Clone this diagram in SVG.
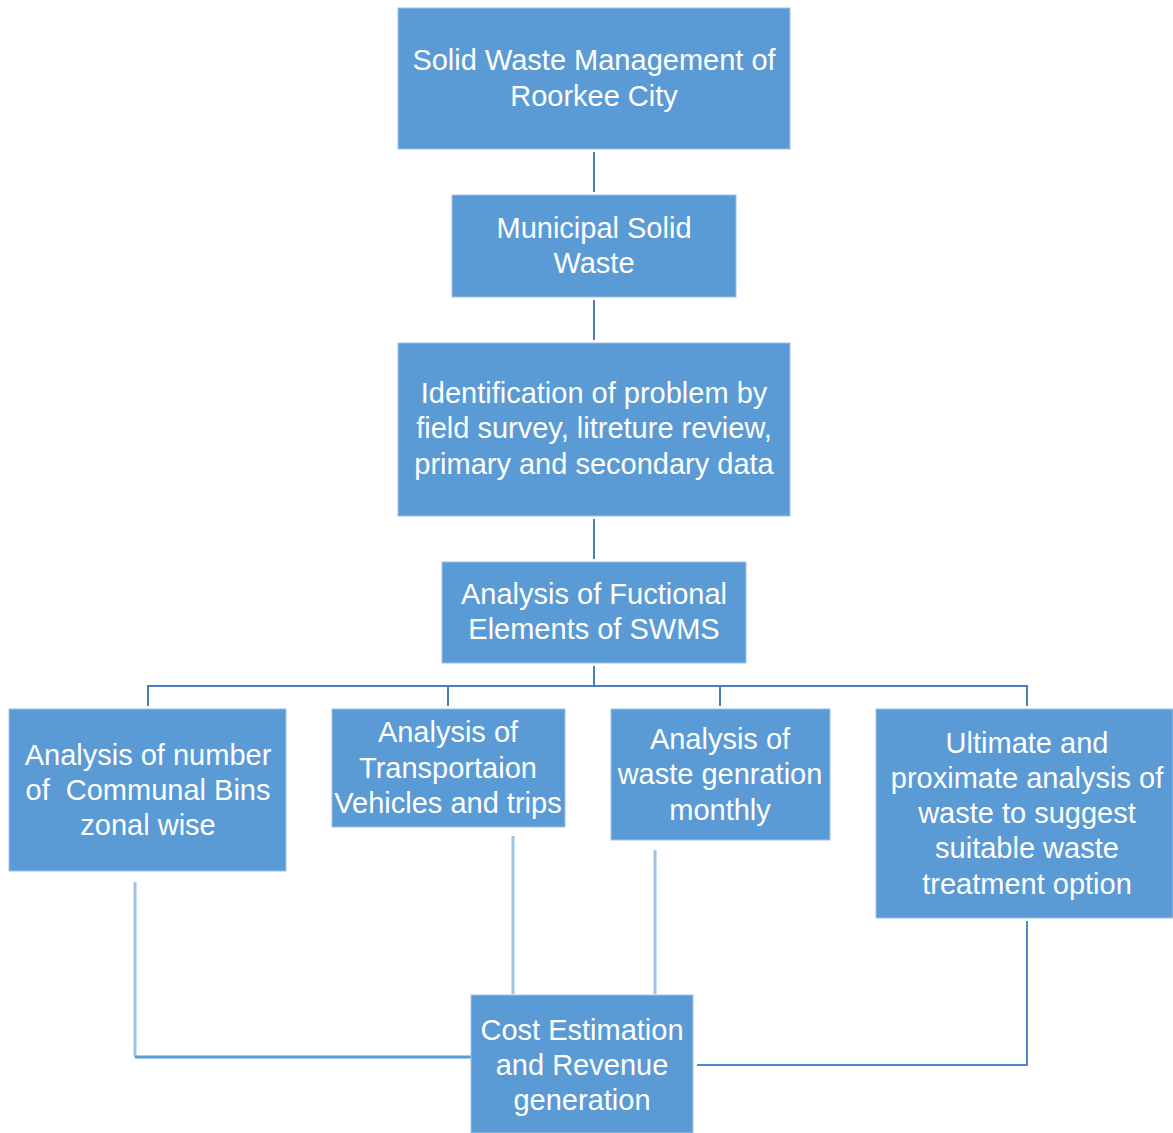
<svg xmlns="http://www.w3.org/2000/svg" width="1173" height="1133" viewBox="0 0 1173 1133">
<style>
.box{fill:#5B9BD5;stroke:#9DC3E6;stroke-width:1}
.t{font-family:"Liberation Sans",Arial,sans-serif;font-size:29px;fill:#FFFFFF;text-anchor:middle}
.tree{fill:none;stroke:#4A7EBB;stroke-width:2}
.light{fill:none;stroke:#9DC3E6;stroke-width:3}
.mid{fill:none;stroke:#5B9BD5;stroke-width:3}
</style>
<rect width="1173" height="1133" fill="#FFFFFF"/>
<g id="connectors">
<line class="tree" x1="594" y1="152" x2="594" y2="192"/>
<line class="tree" x1="594" y1="300" x2="594" y2="340"/>
<line class="tree" x1="594" y1="519" x2="594" y2="559"/>
<line class="tree" x1="594" y1="666" x2="594" y2="686"/>
<polyline class="tree" points="148,706 148,686 1027,686 1027,706"/>
<line class="tree" x1="448" y1="686" x2="448" y2="706"/>
<line class="tree" x1="720" y1="686" x2="720" y2="706"/>
<line class="light" x1="135" y1="882" x2="135" y2="1057"/>
<line class="mid" x1="135" y1="1057" x2="471" y2="1057"/>
<line class="light" x1="513" y1="836" x2="513" y2="994"/>
<line class="light" x1="655" y1="850" x2="655" y2="994"/>
<polyline class="mid" style="stroke-width:2;stroke:#4F88C6" points="1027,921 1027,1065 697,1065"/>
</g>
<g id="n1"><rect class="box" x="398" y="8" width="392" height="141"/>
<text class="t" x="594" y="70">Solid Waste Management of</text>
<text class="t" x="594" y="106">Roorkee City</text></g>
<g id="n2"><rect class="box" x="452" y="195" width="284" height="102"/>
<text class="t" x="594" y="238">Municipal Solid</text>
<text class="t" x="594" y="273">Waste</text></g>
<g id="n3"><rect class="box" x="398" y="343" width="392" height="173"/>
<text class="t" x="594" y="403">Identification of problem by</text>
<text class="t" x="594" y="438">field survey, litreture review,</text>
<text class="t" x="594" y="474">primary and secondary data</text></g>
<g id="n4"><rect class="box" x="442" y="562" width="304" height="101"/>
<text class="t" x="594" y="604">Analysis of Fuctional</text>
<text class="t" x="594" y="639">Elements of SWMS</text></g>
<g id="n5"><rect class="box" x="9" y="709" width="277" height="162"/>
<text class="t" x="148" y="765">Analysis of number</text>
<text class="t" x="148" y="800" xml:space="preserve">of  Communal Bins</text>
<text class="t" x="148" y="835">zonal wise</text></g>
<g id="n6"><rect class="box" x="332" y="709" width="233" height="118"/>
<text class="t" x="448" y="742">Analysis of</text>
<text class="t" x="448" y="778">Transportaion</text>
<text class="t" x="448" y="813">Vehicles and trips</text></g>
<g id="n7"><rect class="box" x="611" y="709" width="219" height="131"/>
<text class="t" x="720" y="749">Analysis of</text>
<text class="t" x="720" y="784">waste genration</text>
<text class="t" x="720" y="820">monthly</text></g>
<g id="n8"><rect class="box" x="876" y="709" width="297" height="209"/>
<text class="t" x="1027" y="753">Ultimate and</text>
<text class="t" x="1027" y="788">proximate analysis of</text>
<text class="t" x="1027" y="823">waste to suggest</text>
<text class="t" x="1027" y="858">suitable waste</text>
<text class="t" x="1027" y="894">treatment option</text></g>
<g id="n9"><rect class="box" x="471" y="995" width="222" height="138"/>
<text class="t" x="582" y="1040">Cost Estimation</text>
<text class="t" x="582" y="1075">and Revenue</text>
<text class="t" x="582" y="1110">generation</text></g>
</svg>
